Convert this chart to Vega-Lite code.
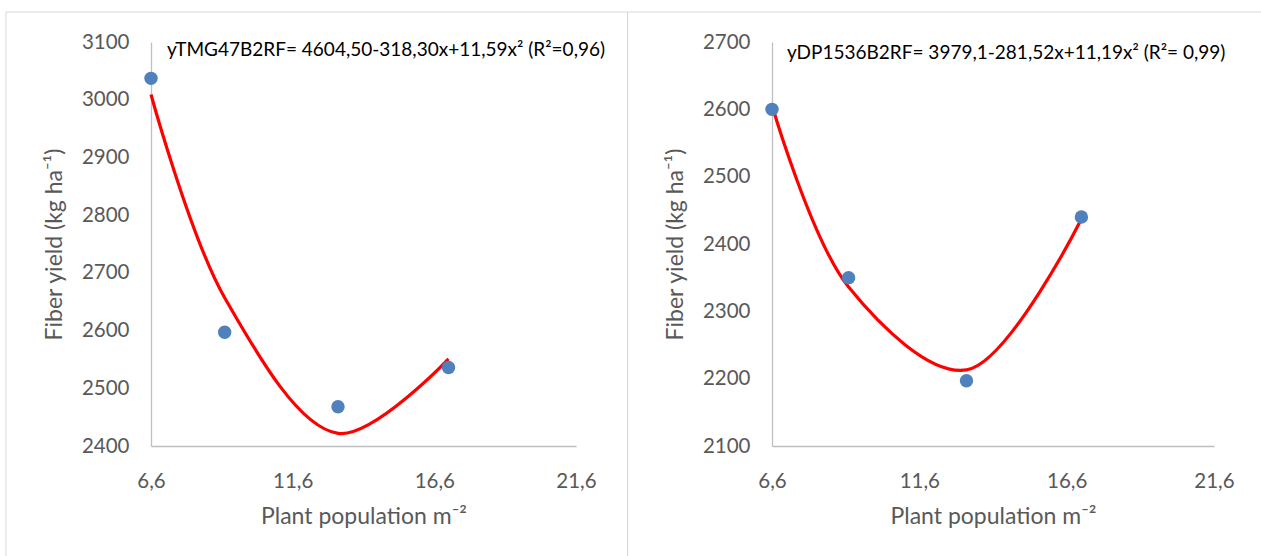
{
  "$schema": "https://vega.github.io/schema/vega-lite/v6.json",
  "background": "white",
  "padding": {"left": 5, "top": 11, "right": 0, "bottom": 0},
  "config": {
    "view": {"stroke": null},
    "font": "Lato",
    "axis": {
      "domainColor": "#bfbfbf",
      "domainWidth": 1.3,
      "ticks": false,
      "grid": false,
      "labelFont": "Lato",
      "labelFontSize": 20.5,
      "labelColor": "#595959",
      "titleFont": "Lato",
      "titleFontSize": 23,
      "titleFontWeight": "normal",
      "titleColor": "#595959",
      "labelFlush": false,
      "labelOverlap": false
    }
  },
  "datasets": {
    "tmg": [
      {"population": 6.6, "yield": 3037, "fitted": 3009},
      {"population": 9.2, "yield": 2597, "fitted": 2657},
      {"population": 13.2, "yield": 2468, "fitted": 2422},
      {"population": 17.1, "yield": 2536, "fitted": 2551}
    ],
    "dp": [
      {"population": 6.6, "yield": 2600, "fitted": 2606},
      {"population": 9.2, "yield": 2350, "fitted": 2336},
      {"population": 13.2, "yield": 2197, "fitted": 2213},
      {"population": 17.1, "yield": 2440, "fitted": 2437}
    ]
  },
  "bounds": "flush",
  "spacing": 196,
  "hconcat": [
    {
      "width": 425,
      "height": 404,
      "layer": [
        {
          "data": {"values": [{"frame": "box"}]},
          "mark": {"type": "rect", "fill": null, "stroke": "#d9d9d9", "strokeWidth": 1},
          "encoding": {
            "x": {"datum": 1.48, "type": "quantitative", "scale": {"domain": [6.6, 21.6], "nice": false, "zero": false},
              "axis": {"title": "Plant population m⁻²", "values": [6.6, 11.6, 16.6, 21.6], "labelExpr": "replace(format(datum.value, '.1f'), '.', ',')", "labelPadding": 25, "titlePadding": 14}},
            "x2": {"datum": 23.42},
            "y": {"datum": 3152, "type": "quantitative", "scale": {"domain": [2400, 3100], "nice": false, "zero": false},
              "axis": {"title": "Fiber yield (kg ha⁻¹)", "values": [2400, 2500, 2600, 2700, 2800, 2900, 3000, 3100], "format": "d", "labelPadding": 22, "titlePadding": 15}},
            "y2": {"datum": 2100}
          }
        },
        {
          "data": {"name": "tmg"},
          "mark": {"type": "line", "color": "#ff0000", "strokeWidth": 3.2, "interpolate": "catmull-rom"},
          "encoding": {
            "x": {"field": "population", "type": "quantitative", "scale": {"domain": [6.6, 21.6], "nice": false, "zero": false},
              "axis": {"title": "Plant population m⁻²", "values": [6.6, 11.6, 16.6, 21.6], "labelExpr": "replace(format(datum.value, '.1f'), '.', ',')", "labelPadding": 25, "titlePadding": 14}},
            "y": {"field": "fitted", "type": "quantitative", "scale": {"domain": [2400, 3100], "nice": false, "zero": false},
              "axis": {"title": "Fiber yield (kg ha⁻¹)", "values": [2400, 2500, 2600, 2700, 2800, 2900, 3000, 3100], "format": "d", "labelPadding": 22, "titlePadding": 15}}
          }
        },
        {
          "data": {"name": "tmg"},
          "mark": {"type": "point", "filled": true, "size": 180, "color": "#4f81bd", "opacity": 1},
          "encoding": {
            "x": {"field": "population", "type": "quantitative", "title": "Plant population m⁻²"},
            "y": {"field": "yield", "type": "quantitative", "title": "Fiber yield (kg ha⁻¹)"}
          }
        },
        {
          "data": {"values": [{"equation": "yTMG47B2RF= 4604,50-318,30x+11,59x² (R²=0,96)"}]},
          "mark": {"type": "text", "align": "left", "baseline": "middle", "dx": 16, "dy": 8, "fontSize": 19, "color": "#000000", "font": "Lato"},
          "encoding": {
            "x": {"datum": 6.6, "type": "quantitative", "title": "Plant population m⁻²"},
            "y": {"datum": 3100, "type": "quantitative", "title": "Fiber yield (kg ha⁻¹)"},
            "text": {"field": "equation"}
          }
        }
      ]
    },
    {
      "width": 442,
      "height": 404,
      "layer": [
        {
          "data": {"values": [{"frame": "box"}]},
          "mark": {"type": "rect", "fill": null, "stroke": "#d9d9d9", "strokeWidth": 1},
          "encoding": {
            "x": {"datum": 1.7, "type": "quantitative", "scale": {"domain": [6.6, 21.6], "nice": false, "zero": false},
              "axis": {"title": "Plant population m⁻²", "values": [6.6, 11.6, 16.6, 21.6], "labelExpr": "replace(format(datum.value, '.1f'), '.', ',')", "labelPadding": 25, "titlePadding": 14}},
            "x2": {"datum": 40},
            "y": {"datum": 2744.6, "type": "quantitative", "scale": {"domain": [2100, 2700], "nice": false, "zero": false},
              "axis": {"title": "Fiber yield (kg ha⁻¹)", "values": [2100, 2200, 2300, 2400, 2500, 2600, 2700], "format": "d", "labelPadding": 22, "titlePadding": 15}},
            "y2": {"datum": 1800}
          }
        },
        {
          "data": {"name": "dp"},
          "mark": {"type": "line", "color": "#ff0000", "strokeWidth": 3.2, "interpolate": "catmull-rom"},
          "encoding": {
            "x": {"field": "population", "type": "quantitative", "scale": {"domain": [6.6, 21.6], "nice": false, "zero": false},
              "axis": {"title": "Plant population m⁻²", "values": [6.6, 11.6, 16.6, 21.6], "labelExpr": "replace(format(datum.value, '.1f'), '.', ',')", "labelPadding": 25, "titlePadding": 14}},
            "y": {"field": "fitted", "type": "quantitative", "scale": {"domain": [2100, 2700], "nice": false, "zero": false},
              "axis": {"title": "Fiber yield (kg ha⁻¹)", "values": [2100, 2200, 2300, 2400, 2500, 2600, 2700], "format": "d", "labelPadding": 22, "titlePadding": 15}}
          }
        },
        {
          "data": {"name": "dp"},
          "mark": {"type": "point", "filled": true, "size": 180, "color": "#4f81bd", "opacity": 1},
          "encoding": {
            "x": {"field": "population", "type": "quantitative", "title": "Plant population m⁻²"},
            "y": {"field": "yield", "type": "quantitative", "title": "Fiber yield (kg ha⁻¹)"}
          }
        },
        {
          "data": {"values": [{"equation": "yDP1536B2RF= 3979,1-281,52x+11,19x² (R²= 0,99)"}]},
          "mark": {"type": "text", "align": "left", "baseline": "middle", "dx": 15, "dy": 11, "fontSize": 19, "color": "#000000", "font": "Lato"},
          "encoding": {
            "x": {"datum": 6.6, "type": "quantitative", "title": "Plant population m⁻²"},
            "y": {"datum": 2700, "type": "quantitative", "title": "Fiber yield (kg ha⁻¹)"},
            "text": {"field": "equation"}
          }
        }
      ]
    }
  ]
}
